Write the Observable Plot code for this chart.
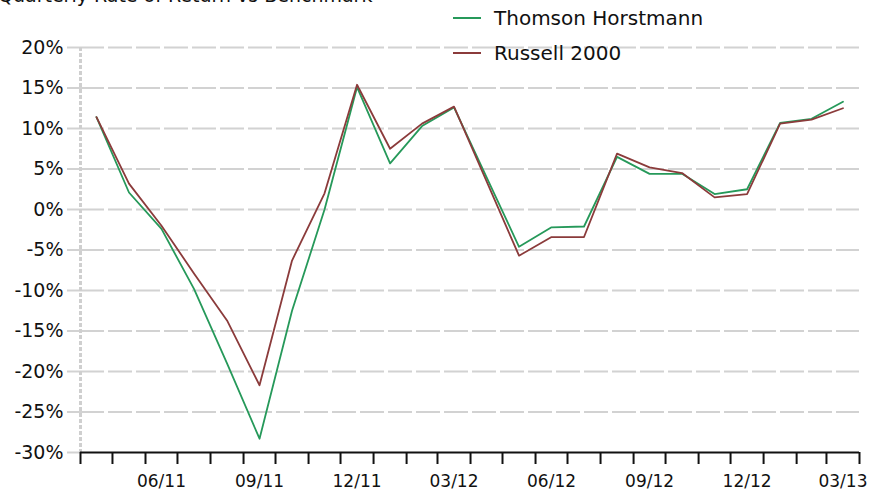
<!DOCTYPE html>
<html>
<head>
<meta charset="utf-8">
<script src="https://cdn.jsdelivr.net/npm/d3@7"></script>
<script src="https://cdn.jsdelivr.net/npm/@observablehq/plot@0.6"></script>
<style>
  html, body { margin: 0; padding: 0; background: #fff; }
  #wrap { position: relative; width: 871px; height: 491px; overflow: hidden; font-family: "DejaVu Sans", Verdana, sans-serif; color: #111; }
  #title { position: absolute; left: -2px; top: -16px; font-size: 19px; white-space: nowrap; }
  #legend { position: absolute; left: 453px; top: 0px; font-size: 20px; }
  .item { display: flex; align-items: center; height: 35px; white-space: nowrap; }
  .swatch { width: 28px; height: 0; border-top: 2px solid; margin-right: 13px; }
  #chart { position: absolute; left: 0; top: 0; }
</style>
</head>
<body>
<div id="wrap">
  <div id="chart"></div>
  <div id="title">Quarterly Rate of Return vs Benchmark</div>
  <div id="legend"></div>
</div>
<script>
// ---- data ----
const months = ["2011-04","2011-05","2011-06","2011-07","2011-08","2011-09","2011-10","2011-11","2011-12",
                "2012-01","2012-02","2012-03","2012-04","2012-05","2012-06","2012-07","2012-08","2012-09",
                "2012-10","2012-11","2012-12","2013-01","2013-02","2013-03"];
const thomson = [11.4, 2.1, -2.4, -9.8, -19.0, -28.3, -12.5, 0.0, 15.1,
                 5.7, 10.3, 12.6, 4.0, -4.6, -2.2, -2.1, 6.5, 4.4,
                 4.4, 1.9, 2.5, 10.7, 11.2, 13.3];
const russell = [11.4, 3.2, -2.0, -7.9, -13.7, -21.7, -6.3, 2.0, 15.4,
                 7.5, 10.6, 12.7, 3.5, -5.7, -3.4, -3.4, 6.9, 5.2,
                 4.5, 1.5, 1.9, 10.6, 11.1, 12.5];
const seriesNames = ["Thomson Horstmann", "Russell 2000"];
const seriesColors = ["#26995a", "#8b3b3b"];
const labelMonths = ["2011-06","2011-09","2011-12","2012-03","2012-06","2012-09","2012-12","2013-03"];
const yTicks = [-30, -25, -20, -15, -10, -5, 0, 5, 10, 15, 20];

// ---- build ----
const parse = d3.utcParse("%Y-%m");
const mid = m => { const a = parse(m); const b = d3.utcMonth.offset(a, 1); return new Date((+a + +b) / 2); };
const start = parse(months[0]);
const end = d3.utcMonth.offset(parse(months[months.length - 1]), 1);
const monthEdges = d3.utcMonth.range(start, d3.utcMonth.offset(end, 1));

const rows = [];
months.forEach((m, i) => {
  rows.push({date: mid(m), value: thomson[i], series: seriesNames[0]});
  rows.push({date: mid(m), value: russell[i], series: seriesNames[1]});
});

const chart = Plot.plot({
  width: 871,
  height: 491,
  marginLeft: 80,
  marginRight: 12,
  marginTop: 47,
  marginBottom: 39,
  style: {fontFamily: '"DejaVu Sans", Verdana, sans-serif', color: "#111", background: "#fff"},
  x: {type: "utc", domain: [start, end]},
  y: {domain: [-30, 20]},
  color: {domain: seriesNames, range: seriesColors},
  marks: [
    Plot.gridY(yTicks.filter(t => t > -30), {stroke: "#d2d2d2", strokeOpacity: 1, strokeWidth: 2, strokeDasharray: "24,4"}),
    Plot.axisY({ticks: yTicks, tickSize: 13, tickPadding: 4, stroke: "#d2d2d2", strokeWidth: 2,
                tickFormat: d => d + "%", fontSize: 19, fill: "#111", label: null}),
    Plot.ruleX([start], {stroke: "#cfcfcf", strokeWidth: 3, strokeDasharray: "4,2"}),
    Plot.lineY(rows, {x: "date", y: "value", stroke: "series", strokeWidth: 1.8}),
    Plot.ruleY([-30], {stroke: "#111", strokeWidth: 2}),
    Plot.axisX({ticks: monthEdges, tickSize: 12, tickFormat: () => "", stroke: "#111", strokeWidth: 2, label: null}),
    Plot.axisX({ticks: labelMonths.map(mid), tickSize: 0, tickPadding: 22, tickFormat: d3.utcFormat("%m/%y"),
                fontSize: 17, fill: "#111", label: null})
  ]
});
document.getElementById("chart").appendChild(chart);

const legend = document.getElementById("legend");
seriesNames.forEach((n, i) => {
  const it = document.createElement("div");
  it.className = "item";
  const sw = document.createElement("span");
  sw.className = "swatch";
  sw.style.borderTopColor = seriesColors[i];
  const tx = document.createElement("span");
  tx.textContent = n;
  it.appendChild(sw); it.appendChild(tx);
  legend.appendChild(it);
});
</script>
</body>
</html>
